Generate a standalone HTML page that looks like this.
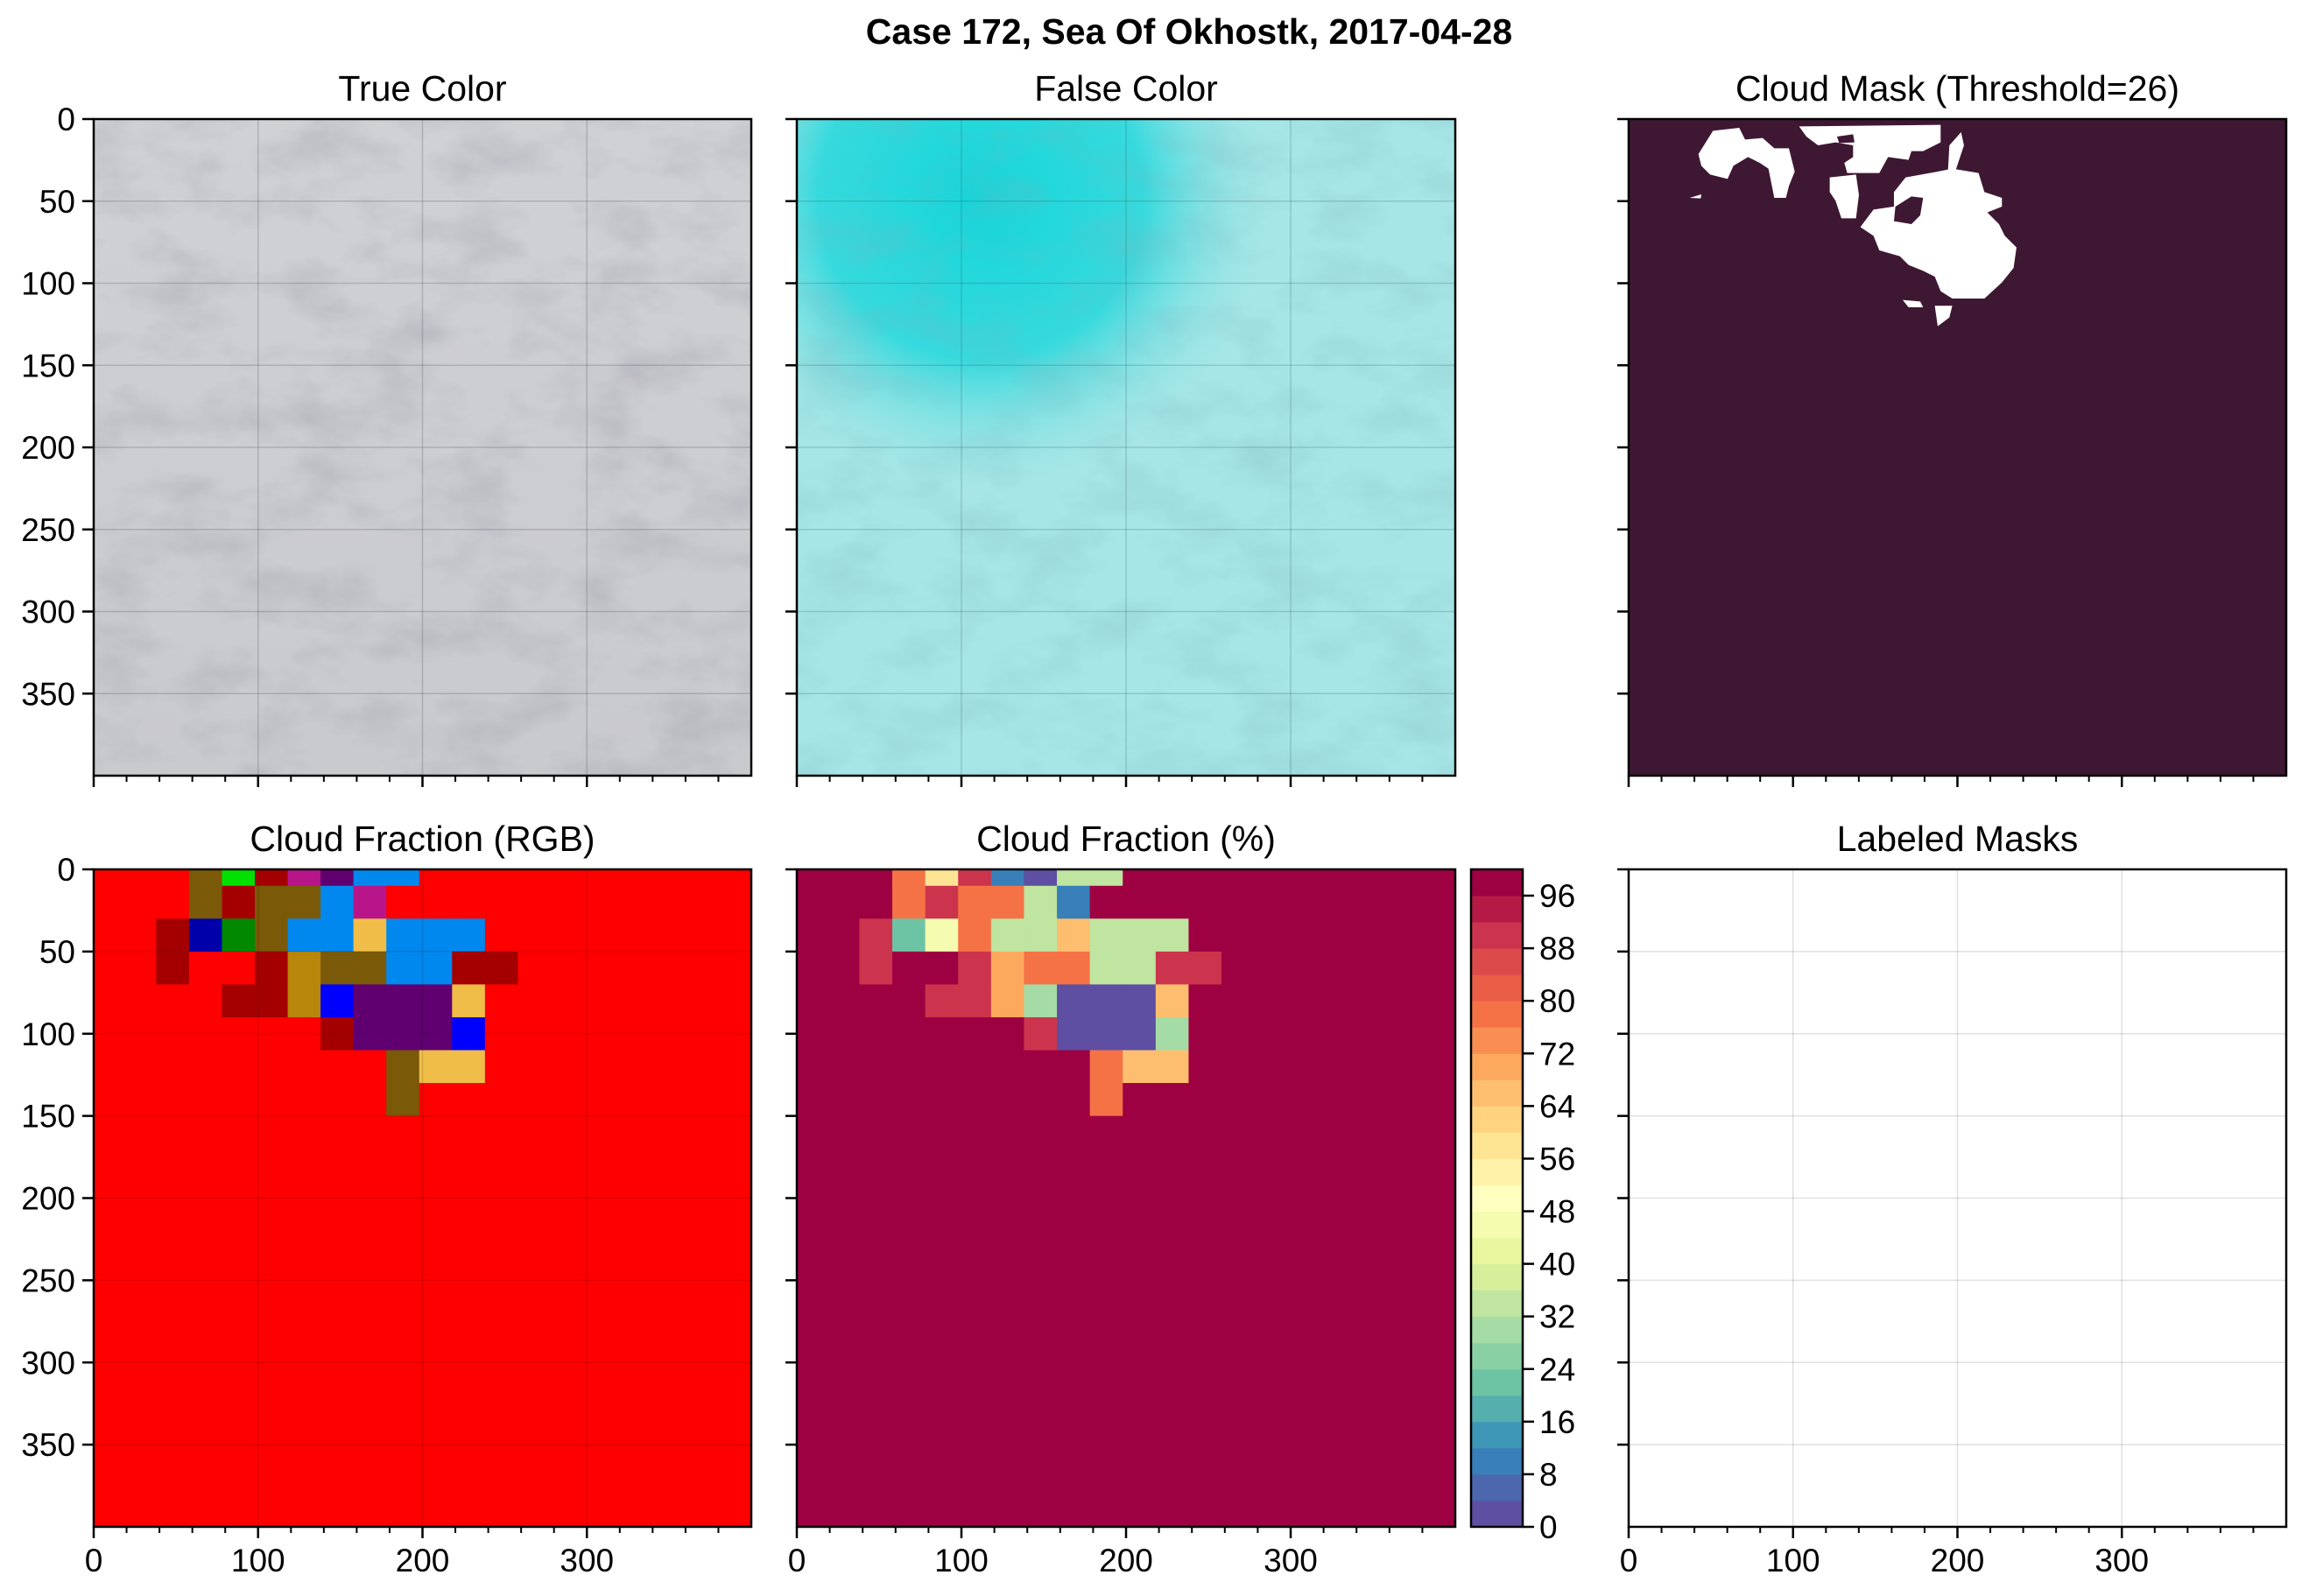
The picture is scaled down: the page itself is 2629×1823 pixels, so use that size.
<!DOCTYPE html>
<html><head><meta charset="utf-8">
<style>
html,body{margin:0;padding:0;background:#fff;}
svg{display:block;font-family:"Liberation Sans",sans-serif;}
</style></head>
<body>
<svg id="fig" xmlns="http://www.w3.org/2000/svg" width="2629" height="1823" viewBox="0 0 2629 1823">
<defs>
<filter id="noiseDark" x="0" y="0" width="100%" height="100%">
<feTurbulence type="fractalNoise" baseFrequency="0.012 0.02" numOctaves="4" seed="3"/>
<feColorMatrix type="matrix" values="0 0 0 0 0.25  0 0 0 0 0.27  0 0 0 0 0.33  0.6 0 0 0 -0.25"/>
</filter>
<filter id="noiseDark2" x="0" y="0" width="100%" height="100%">
<feTurbulence type="fractalNoise" baseFrequency="0.012 0.02" numOctaves="4" seed="7"/>
<feColorMatrix type="matrix" values="0 0 0 0 0.2  0 0 0 0 0.45  0 0 0 0 0.5  0.6 0 0 0 -0.25"/>
</filter>
<radialGradient id="cyanSpot" cx="0.28" cy="0.12" r="0.45">
<stop offset="0" stop-color="#12d6da"/><stop offset="0.55" stop-color="#2ad8dc" stop-opacity="0.9"/><stop offset="1" stop-color="#9fe4e4" stop-opacity="0"/>
</radialGradient>
<linearGradient id="grayBase" x1="0" y1="0" x2="0" y2="1">
<stop offset="0" stop-color="#d0d1d5"/><stop offset="1" stop-color="#c9cace"/>
</linearGradient>
<clipPath id="clipA1"><rect x="107" y="136" width="751" height="750"/></clipPath>
<clipPath id="clipA2"><rect x="910" y="136" width="752" height="750"/></clipPath>
<clipPath id="clipB1"><rect x="107" y="993" width="751" height="751"/></clipPath>
<clipPath id="clipB2"><rect x="910" y="993" width="752" height="751"/></clipPath>
</defs>
<text x="1358" y="50" font-size="41" font-weight="bold" text-anchor="middle">Case 172, Sea Of Okhostk, 2017-04-28</text>

<g clip-path="url(#clipA1)">
<rect x="107" y="136" width="751" height="750" fill="url(#grayBase)"/>
<rect x="107" y="136" width="751" height="750" filter="url(#noiseDark)"/>
</g>
<g clip-path="url(#clipA2)">
<rect x="910" y="136" width="752" height="750" fill="#a6e6e6"/>
<rect x="910" y="136" width="752" height="750" fill="url(#cyanSpot)"/>
<rect x="910" y="136" width="752" height="750" filter="url(#noiseDark2)"/>
</g>
<g>
<rect x="1860" y="136" width="751" height="750" fill="#3e1832"/>
<g transform="translate(1863,136) scale(0.3333)" fill="#ffffff">
<polygon points="785,370 830,310 900,300 900,250 940,200 1050,180 1100,170 1190,185 1210,250 1270,270 1270,300 1220,320 1260,360 1280,400 1320,440 1310,510 1270,560 1210,615 1100,615 1060,590 1040,540 1000,520 950,500 920,470 850,450 830,400"/>
<polygon fill="#3e1832" points="905,300 960,265 1000,270 990,330 960,360 900,350"/>
<polygon points="575,25 1060,20 1060,80 1000,110 960,110 950,140 880,130 850,185 740,185 730,150 760,130 760,90 700,80 640,90 600,60"/>
<polygon fill="#3e1832" points="705,60 760,52 765,80 712,82"/>
<polygon points="230,120 280,40 370,30 390,70 450,65 490,100 540,100 560,180 540,230 530,270 490,270 470,170 440,150 400,130 350,160 330,205 270,190 240,160"/>
<polygon points="680,200 770,190 780,260 770,340 720,340 700,280 680,250"/>
<polygon points="1040,640 1100,640 1090,680 1050,710"/>
<polygon points="1090,90 1130,45 1140,90 1110,180 1085,180"/>
<polygon points="930,620 990,625 1000,645 950,645"/>
<polygon points="200,270 240,258 238,272"/>
</g>
</g>
<g id="plots"></g>
</svg>
<script>
// ---- data ----
const rgbRows = [
 "RRRNLDMPAA",
 "RRRNDNNAM",
 "RRDVGNAAYAAA",
 "RRDRRDONNAADD",
 "RRRRDDOBPPPY",
 "RRRRRRRDPPPB",
 "RRRRRRRRRNYY",
 "RRRRRRRRRN"
];
const rgbColors = {R:"#ff0000",D:"#a50000",N:"#7a5a08",L:"#00e000",M:"#b8158a",P:"#600070",A:"#0088ee",V:"#0000aa",G:"#008800",Y:"#f0be48",O:"#b8860b",B:"#0000ff"};
const fracRows = [
 [99,99,99,79,57,89,10,1,33,33],
 [99,99,99,79,89,79,79,33,10],
 [99,99,89,21,45,79,33,33,66,33,33,33],
 [99,99,89,99,99,89,70,79,79,33,33,89,89],
 [99,99,99,99,89,89,70,29,1,1,1,66],
 [99,99,99,99,99,99,99,89,1,1,1,29],
 [99,99,99,99,99,99,99,99,99,79,66,66],
 [99,99,99,99,99,99,99,99,99,79]
];
const fracBackground = 99;
const cbTicks = [0,8,16,24,32,40,48,56,64,72,80,88,96];
const xTicks = [0,100,200,300];
const yTicks = [0,50,100,150,200,250,300,350];
const cellSize = 20, nCells = 21, xOffset = -2, yOffset = -10;

const NS = "http://www.w3.org/2000/svg";
const plots = document.getElementById('plots');
function mk(tag, attrs, parent){const e=document.createElementNS(NS,tag);for(const k in attrs)e.setAttribute(k,attrs[k]);(parent||plots).appendChild(e);return e;}

const axes = {
 A1:{x0:107,y0:136,w:751,h:750}, A2:{x0:910,y0:136,w:752,h:750}, A3:{x0:1860,y0:136,w:751,h:750},
 B1:{x0:107,y0:993,w:751,h:751}, B2:{x0:910,y0:993,w:752,h:751}, B3:{x0:1860,y0:993,w:751,h:751}
};
function sx(ax,v){return ax.x0+v/400*ax.w;}
function sy(ax,v){return ax.y0+v/400*ax.h;}

const spec = ["#5e4fa2","#3288bd","#66c2a5","#abdda4","#e6f598","#ffffbf","#fee08b","#fdae61","#f46d43","#d53e4f","#9e0142"];
function hex2rgb(h){return [1,3,5].map(i=>parseInt(h.substr(i,2),16));}
function spectral(t){const p=t*10;const i=Math.min(9,Math.floor(p));const f=p-i;const a=hex2rgb(spec[i]),b=hex2rgb(spec[i+1]);return "rgb("+a.map((v,k)=>Math.round(v+(b[k]-v)*f)).join(",")+")";}
function binColor(v){const k=Math.min(24,Math.floor(v/4));return spectral(k/24);}

function drawCells(ax, clip, colorAt, name){
 const g=mk('g',{'clip-path':'url(#'+clip+')'});
 
 
 for(let r=0;r<nCells;r++){for(let c=0;c<nCells;c++){
  const col=colorAt(r,c);
  const x=sx(ax,c*cellSize+xOffset), y=sy(ax,r*cellSize+yOffset);
  const rc=mk('rect',{x:x,y:y,width:sx(ax,cellSize)-ax.x0+0.6,height:sy(ax,cellSize)-ax.y0+0.6,fill:col},g);
  
  
 }}
 return g;
}
drawCells(axes.B1,'clipB1',(r,c)=>{const row=rgbRows[r]||"";return rgbColors[row[c]||"R"];},'cloud-fraction-rgb-image');
drawCells(axes.B2,'clipB2',(r,c)=>{const row=fracRows[r]||[];const v=row[c]!==undefined?row[c]:fracBackground;return binColor(v);},'cloud-fraction-percent-image');

const lm=mk('rect',{x:1860,y:993,width:751,height:751,fill:"#ffffff"});



function grid(ax, color, w){
 const g=mk('g',{stroke:color,'stroke-width':w});
 
 
 xTicks.slice(1).forEach(v=>mk('line',{x1:sx(ax,v),x2:sx(ax,v),y1:ax.y0,y2:ax.y0+ax.h},g));
 yTicks.slice(1).forEach(v=>mk('line',{y1:sy(ax,v),y2:sy(ax,v),x1:ax.x0,x2:ax.x0+ax.w},g));
}
grid(axes.A1,"rgba(60,60,80,0.22)",1.5);
grid(axes.A2,"rgba(40,70,80,0.2)",1.5);
grid(axes.B1,"rgba(0,0,0,0.12)",1.5);
grid(axes.B3,"rgba(0,0,0,0.12)",1.5);

const titles={A1:"True Color",A2:"False Color",A3:"Cloud Mask (Threshold=26)",B1:"Cloud Fraction (RGB)",B2:"Cloud Fraction (%)",B3:"Labeled Masks"};
for(const key in axes){
 const ax=axes[key];
 const fr=mk('rect',{x:ax.x0,y:ax.y0,width:ax.w,height:ax.h,fill:'none',stroke:'#000','stroke-width':2.5});
 
 
 const t=mk('text',{x:ax.x0+ax.w/2,y:ax.y0-21,'font-size':41,'text-anchor':'middle'});
 t.textContent=titles[key];
 
 
 const bottom=ax.y0+ax.h;
 xTicks.forEach(v=>{
  mk('line',{x1:sx(ax,v),x2:sx(ax,v),y1:bottom,y2:bottom+13,stroke:'#000','stroke-width':2.5});
  if(key[0]==='B'){const l=mk('text',{x:sx(ax,v),y:bottom+51,'font-size':37,'text-anchor':'middle'});l.textContent=v;
   
   }
 });
 for(let v=20;v<400;v+=20){if(v%100)mk('line',{x1:sx(ax,v),x2:sx(ax,v),y1:bottom,y2:bottom+7,stroke:'#000','stroke-width':2});}
 yTicks.forEach(v=>{
  mk('line',{x1:ax.x0-13,x2:ax.x0,y1:sy(ax,v),y2:sy(ax,v),stroke:'#000','stroke-width':2.5});
  if(key==='A1'||key==='B1'){const l=mk('text',{x:ax.x0-21,y:sy(ax,v)+13,'font-size':37,'text-anchor':'end'});l.textContent=v;
   
   }
 });
}

const cb={x0:1680,y0:993,w:59,h:751};
const cbg=mk('g',{});


function cy(v){return cb.y0+(1-v/100)*cb.h;}
for(let k=0;k<25;k++){
 const r=mk('rect',{x:cb.x0,y:cy((k+1)*4),width:cb.w,height:cy(k*4)-cy((k+1)*4)+0.5,fill:spectral(k/24)},cbg);
 
 
}
mk('rect',{x:cb.x0,y:cb.y0,width:cb.w,height:cb.h,fill:'none',stroke:'#000','stroke-width':2.5},cbg);
cbTicks.forEach(v=>{
 mk('line',{x1:cb.x0+cb.w,x2:cb.x0+cb.w+13,y1:cy(v),y2:cy(v),stroke:'#000','stroke-width':2.5},cbg);
 const l=mk('text',{x:cb.x0+cb.w+19,y:cy(v)+13,'font-size':37},cbg);
 l.textContent=v;
 
 
});
</script>
</body></html>
